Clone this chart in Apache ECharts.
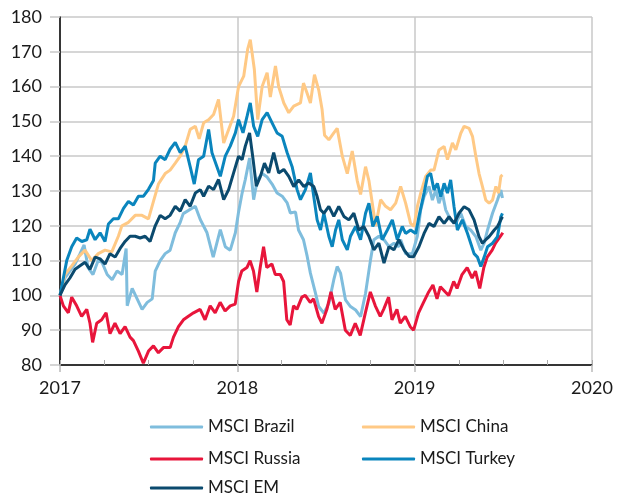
<!DOCTYPE html>
<html>
<head>
<meta charset="utf-8">
<script src="https://cdn.jsdelivr.net/npm/echarts@6/dist/echarts.min.js"></script>
<style>
  html, body { margin: 0; padding: 0; background: #fff; }
  #chart { width: 624px; height: 497px; }
</style>
</head>
<body>
<div id="chart"></div>
<script>
// MSCI indices, rebased to 100 at start of 2017; x = decimal year
var brazil = [[2017,100],[2017.028,105],[2017.056,107],[2017.085,109],[2017.113,112],[2017.136,114.5],[2017.158,108],[2017.186,106],[2017.215,110],[2017.237,109.5],[2017.266,106],[2017.294,104.5],[2017.322,107],[2017.35,106],[2017.373,113.5],[2017.379,97],[2017.407,102],[2017.435,99],[2017.463,96],[2017.492,98],[2017.52,99],[2017.537,107],[2017.565,110],[2017.593,112],[2017.621,113],[2017.65,118],[2017.678,121],[2017.695,123.5],[2017.763,125.6],[2017.791,121.8],[2017.829,118],[2017.864,111],[2017.904,118.9],[2017.932,114],[2017.96,113],[2017.989,118],[2018.006,123.7],[2018.027,129.4],[2018.045,133.3],[2018.069,139.5],[2018.092,127.5],[2018.113,133.3],[2018.14,135],[2018.168,134],[2018.196,132],[2018.224,129.4],[2018.253,128.5],[2018.281,126.6],[2018.299,123.7],[2018.328,124],[2018.345,118.8],[2018.373,116],[2018.394,111.2],[2018.412,106.4],[2018.441,100.6],[2018.459,96.8],[2018.488,94.9],[2018.516,97.7],[2018.544,104.5],[2018.563,108.3],[2018.582,106.4],[2018.61,98.7],[2018.638,96.8],[2018.667,95.8],[2018.695,93.9],[2018.723,100.6],[2018.751,110.2],[2018.77,116],[2018.798,117],[2018.827,116],[2018.855,114],[2018.883,115],[2018.911,114],[2018.921,116],[2018.949,112],[2018.987,112],[2019.015,117],[2019.034,124.6],[2019.053,128.4],[2019.081,131.3],[2019.1,127.4],[2019.119,130.3],[2019.137,126.5],[2019.156,129.4],[2019.175,124.6],[2019.203,121.7],[2019.232,120.7],[2019.26,123.6],[2019.288,119.8],[2019.316,118.8],[2019.345,116.9],[2019.373,113],[2019.392,115],[2019.411,118.8],[2019.439,123.6],[2019.467,127.4],[2019.486,130.3],[2019.495,128]];

var china = [[2017,100],[2017.028,106],[2017.066,108.5],[2017.103,111],[2017.141,113],[2017.179,110],[2017.216,112],[2017.254,113],[2017.292,112.5],[2017.329,117],[2017.349,120],[2017.386,121],[2017.424,123],[2017.462,123],[2017.499,122],[2017.527,127],[2017.555,132],[2017.593,135],[2017.621,136],[2017.65,138],[2017.678,140],[2017.706,142.9],[2017.734,147.7],[2017.763,148.6],[2017.785,145],[2017.81,149.6],[2017.838,150.5],[2017.866,152],[2017.894,156.3],[2017.923,143.8],[2017.951,147.7],[2017.979,151.5],[2018.007,160],[2018.036,163],[2018.058,170.7],[2018.073,173.5],[2018.096,164.9],[2018.115,150.5],[2018.14,160],[2018.168,164],[2018.186,157],[2018.215,165.9],[2018.233,160],[2018.262,155.3],[2018.29,152.5],[2018.318,154.4],[2018.356,155.3],[2018.373,161],[2018.394,158],[2018.412,155.3],[2018.435,163.4],[2018.459,159],[2018.478,153.4],[2018.492,146],[2018.516,144.7],[2018.544,146.7],[2018.563,148],[2018.592,140],[2018.62,135],[2018.648,141.5],[2018.676,133],[2018.695,129],[2018.723,137],[2018.742,133],[2018.761,126.5],[2018.78,120],[2018.808,127.5],[2018.836,125.6],[2018.864,124.6],[2018.893,126.5],[2018.921,131.3],[2018.949,126.5],[2018.977,120.7],[2018.996,119.8],[2019.015,125.5],[2019.034,129.4],[2019.062,134.2],[2019.09,136],[2019.109,136],[2019.137,141.8],[2019.166,142.8],[2019.185,139],[2019.213,143.8],[2019.232,141.8],[2019.26,146.6],[2019.279,148.6],[2019.307,148],[2019.326,145.7],[2019.345,140],[2019.363,135],[2019.382,131.3],[2019.401,127.4],[2019.42,126.5],[2019.439,127.4],[2019.458,131.3],[2019.473,129.4],[2019.486,134.2],[2019.495,134.6]];

var russia = [[2017,100],[2017.019,97],[2017.047,95],[2017.066,99.5],[2017.094,97],[2017.122,94],[2017.151,96],[2017.169,92],[2017.184,86.5],[2017.207,92],[2017.235,93],[2017.26,95],[2017.282,89],[2017.31,92],[2017.339,89],[2017.367,91],[2017.395,88],[2017.414,87],[2017.442,84],[2017.47,80.5],[2017.499,84],[2017.527,85.5],[2017.555,83.5],[2017.583,85],[2017.621,85],[2017.64,88],[2017.668,91],[2017.696,93],[2017.724,94],[2017.753,95],[2017.79,96],[2017.818,93],[2017.847,97],[2017.875,95],[2017.903,98],[2017.931,95.5],[2017.96,97],[2017.988,97.5],[2018.007,104],[2018.025,107],[2018.054,108],[2018.072,110],[2018.091,107],[2018.11,101],[2018.129,108],[2018.148,114],[2018.166,108],[2018.195,109],[2018.214,106],[2018.242,106],[2018.261,104],[2018.279,93],[2018.298,91.5],[2018.317,97],[2018.336,96],[2018.364,99.5],[2018.383,100],[2018.411,98],[2018.43,99],[2018.458,94],[2018.477,92],[2018.505,96],[2018.528,101],[2018.552,96],[2018.58,98],[2018.609,90],[2018.637,88.5],[2018.665,92],[2018.693,88.5],[2018.722,95],[2018.75,101],[2018.778,97],[2018.806,94],[2018.825,96],[2018.853,99.5],[2018.872,93],[2018.9,96],[2018.919,92],[2018.947,94],[2018.975,91],[2018.994,90],[2019.022,95],[2019.05,98],[2019.079,101],[2019.103,103],[2019.126,99],[2019.145,102.5],[2019.173,101],[2019.192,100],[2019.22,104],[2019.239,102],[2019.267,106],[2019.296,108],[2019.324,105],[2019.343,107],[2019.367,102],[2019.39,108],[2019.409,111],[2019.437,113],[2019.456,115],[2019.484,117],[2019.497,118]];

var turkey = [[2017,100],[2017.019,105],[2017.038,110],[2017.066,114],[2017.094,116.5],[2017.123,115.5],[2017.151,116],[2017.169,119],[2017.198,116],[2017.226,118],[2017.254,115.5],[2017.273,120.5],[2017.301,122],[2017.329,122],[2017.358,125],[2017.386,127],[2017.414,126],[2017.442,128.5],[2017.471,128.5],[2017.499,130.5],[2017.527,133],[2017.537,138],[2017.565,140],[2017.593,139],[2017.621,142],[2017.65,144],[2017.678,141],[2017.706,142.9],[2017.734,137],[2017.757,132],[2017.781,139],[2017.81,140],[2017.838,147.7],[2017.857,141],[2017.885,137],[2017.904,134.2],[2017.932,140],[2017.96,142.9],[2017.989,146.7],[2018.007,150.5],[2018.032,146.7],[2018.055,151.5],[2018.073,155.3],[2018.092,148.6],[2018.115,145.7],[2018.14,150.5],[2018.168,152.5],[2018.196,149.6],[2018.224,146.7],[2018.253,145.7],[2018.281,141],[2018.309,137],[2018.337,130.4],[2018.356,127.5],[2018.384,130.4],[2018.412,135.2],[2018.431,128.4],[2018.45,121.7],[2018.469,118.8],[2018.488,123.6],[2018.516,117],[2018.535,114],[2018.554,118.8],[2018.572,121.7],[2018.592,116],[2018.62,113.1],[2018.638,117],[2018.667,119.8],[2018.695,116],[2018.723,123.6],[2018.742,126.5],[2018.764,119.8],[2018.789,122.7],[2018.817,116],[2018.846,118.8],[2018.874,121.7],[2018.902,116],[2018.93,119.8],[2018.949,117.8],[2018.977,118.8],[2019.006,117.8],[2019.024,122.6],[2019.053,129.4],[2019.072,134.2],[2019.09,135.1],[2019.109,130.3],[2019.128,132.2],[2019.147,128.4],[2019.166,132.2],[2019.185,129.4],[2019.203,133.2],[2019.222,125.5],[2019.241,118.8],[2019.269,121.7],[2019.298,117.8],[2019.316,115],[2019.335,112],[2019.354,111],[2019.373,108.3],[2019.392,111],[2019.411,114],[2019.439,115],[2019.467,116.9],[2019.486,122.6],[2019.495,123.6]];

var em = [[2017,100],[2017.028,103],[2017.056,105],[2017.085,107.5],[2017.113,108.5],[2017.141,109.5],[2017.169,107.5],[2017.198,111],[2017.226,110.5],[2017.254,109],[2017.282,112],[2017.311,111],[2017.339,113.5],[2017.367,115.5],[2017.395,117],[2017.424,117],[2017.452,116.5],[2017.48,117],[2017.508,115.5],[2017.537,120],[2017.565,123],[2017.593,122],[2017.621,123],[2017.65,125.6],[2017.678,124.2],[2017.706,127.5],[2017.734,125.6],[2017.763,129.4],[2017.791,130.4],[2017.81,128.5],[2017.838,131.4],[2017.866,130.4],[2017.894,133.3],[2017.923,127.5],[2017.951,130.4],[2017.979,135.2],[2018.007,140],[2018.027,139],[2018.045,142.9],[2018.069,146.7],[2018.089,139],[2018.107,131.4],[2018.13,134.2],[2018.153,138],[2018.177,135.2],[2018.205,141],[2018.233,135.2],[2018.262,136.2],[2018.29,134.2],[2018.318,131.3],[2018.346,133.2],[2018.375,131.3],[2018.403,132.3],[2018.431,131.3],[2018.45,128.4],[2018.469,124.6],[2018.488,123.6],[2018.516,125.6],[2018.544,122.7],[2018.572,125.6],[2018.601,122.7],[2018.629,121.7],[2018.657,123.6],[2018.685,118.8],[2018.713,119.8],[2018.742,117],[2018.77,113.1],[2018.798,115],[2018.827,109.3],[2018.855,114],[2018.883,113.1],[2018.911,116],[2018.94,113.1],[2018.968,111.2],[2018.994,111.1],[2019.024,114],[2019.053,117.8],[2019.081,120.7],[2019.109,119.8],[2019.137,122.6],[2019.166,120.7],[2019.194,122.6],[2019.222,120.7],[2019.25,123.6],[2019.279,125.5],[2019.307,124.6],[2019.335,121.7],[2019.363,116.9],[2019.382,115],[2019.401,116],[2019.42,116.9],[2019.449,118.8],[2019.467,119.8],[2019.486,121.7],[2019.495,122.6]];

var names = ['MSCI Brazil', 'MSCI China', 'MSCI Russia', 'MSCI Turkey', 'MSCI EM'];
var colors = ['#7fbddd', '#ffc985', '#e8153b', '#0a85bd', '#0b4a6e'];
var seriesData = [brazil, china, russia, turkey, em];

// legend slot for each series: [left, top]
var legendPos = [[150, 417], [362, 417], [150, 449], [362, 449], [150, 478]];

var chart = echarts.init(document.getElementById('chart'));
var font = 'Lato, "Noto Sans", sans-serif';
var gridColor = '#c8c8c8';

var option = {
  animation: false,
  color: colors,
  grid: { left: 60, right: 32, top: 17, bottom: 132, containLabel: false },
  legend: names.map(function (n, i) {
    return {
      data: [n],
      left: legendPos[i][0], top: legendPos[i][1], padding: 0,
      icon: 'roundRect', itemWidth: 53, itemHeight: 3,
      textStyle: { fontFamily: font, fontSize: 17, color: '#1a1a1a', lineHeight: 20 }
    };
  }),
  xAxis: [
    {
      type: 'value', min: 2017, max: 2020, interval: 1, position: 'bottom',
      axisLine: { lineStyle: { color: '#000', width: 1.5 } },
      axisTick: { show: true, length: 7, lineStyle: { color: '#bbb', width: 1.5 } },
      axisLabel: { fontFamily: font, fontSize: 18, color: '#1a1a1a', margin: 14,
        formatter: function (v) { return String(v); } },
      splitLine: { show: true, lineStyle: { color: gridColor, width: 1.5 } }
    },
    {
      type: 'value', min: 2017, max: 2020, interval: 0.25, position: 'bottom',
      axisLine: { show: false },
      axisTick: { show: true, inside: true, length: 5, lineStyle: { color: '#aaa', width: 1 } },
      axisLabel: { show: false },
      splitLine: { show: false }
    }
  ],
  yAxis: {
    type: 'value', min: 80, max: 180, interval: 10,
    axisLine: { show: true, lineStyle: { color: '#000', width: 1.5 } },
    axisTick: { show: true, length: 10, lineStyle: { color: gridColor, width: 1.5 } },
    axisLabel: { fontFamily: font, fontSize: 18, color: '#1a1a1a', margin: 18 },
    splitLine: { show: true, lineStyle: { color: gridColor, width: 1.5 } }
  },
  series: seriesData.map(function (d, i) {
    return {
      name: names[i],
      type: 'line',
      data: d,
      showSymbol: false,
      symbol: 'none',
      lineStyle: { width: 3, color: colors[i] },
      itemStyle: { color: colors[i] }
    };
  })
};

chart.setOption(option);
</script>
</body>
</html>
